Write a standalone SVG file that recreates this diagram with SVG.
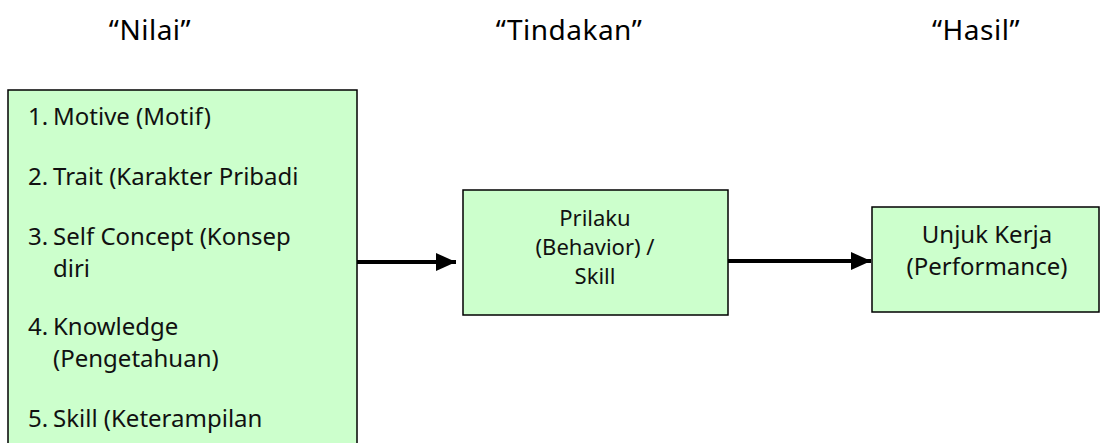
<svg xmlns="http://www.w3.org/2000/svg" width="1103" height="443" viewBox="0 0 1103 443">
<style>
.box{fill:#ccffcc;stroke:#000;stroke-width:1.5}
.t{font-family:"Noto Sans","Open Sans",sans-serif;font-size:24px;fill:#111}
.m{font-size:22px}
.h{font-family:"Noto Sans","Open Sans",sans-serif;font-size:28px;letter-spacing:0.5px;fill:#000;text-anchor:middle}
.c{text-anchor:middle}
.conn{stroke:#000;stroke-width:4;fill:none}
</style>
<defs>
<marker id="ah" markerUnits="userSpaceOnUse" markerWidth="20" markerHeight="18" refX="20" refY="9" orient="auto">
<path d="M0,0 L20,9 L0,18 Z" fill="#000"/>
</marker>
</defs>
<g id="headers">
<text class="h" x="150" y="40">“Nilai”</text>
<text class="h" x="569" y="40">“Tindakan”</text>
<text class="h" x="976" y="40">“Hasil”</text>
</g>
<g id="connectors">
<line class="conn" x1="357" y1="262" x2="456" y2="262" marker-end="url(#ah)"/>
<line class="conn" x1="728" y1="261" x2="871" y2="261" marker-end="url(#ah)"/>
</g>
<g id="node-nilai">
<rect class="box" x="8" y="90" width="349" height="360"/>
<text class="t" x="28" y="125">1.</text><text class="t" x="53" y="125">Motive (Motif)</text>
<text class="t" x="28" y="185">2.</text><text class="t" x="53" y="185">Trait (Karakter Pribadi</text>
<text class="t" x="28" y="245">3.</text><text class="t" x="53" y="245">Self Concept (Konsep</text>
<text class="t" x="53" y="277">diri</text>
<text class="t" x="28" y="335">4.</text><text class="t" x="53" y="335">Knowledge</text>
<text class="t" x="53" y="367">(Pengetahuan)</text>
<text class="t" x="28" y="427">5.</text><text class="t" x="53" y="427">Skill (Keterampilan</text>
</g>
<g id="node-tindakan">
<rect class="box" x="463" y="190" width="265" height="125"/>
<text class="t m c" x="595" y="226">Prilaku</text>
<text class="t m c" x="595" y="255">(Behavior) /</text>
<text class="t m c" x="595" y="284">Skill</text>
</g>
<g id="node-hasil">
<rect class="box" x="872" y="207" width="227" height="105"/>
<text class="t c" x="987" y="243">Unjuk Kerja</text>
<text class="t c" x="987" y="275">(Performance)</text>
</g>
</svg>
